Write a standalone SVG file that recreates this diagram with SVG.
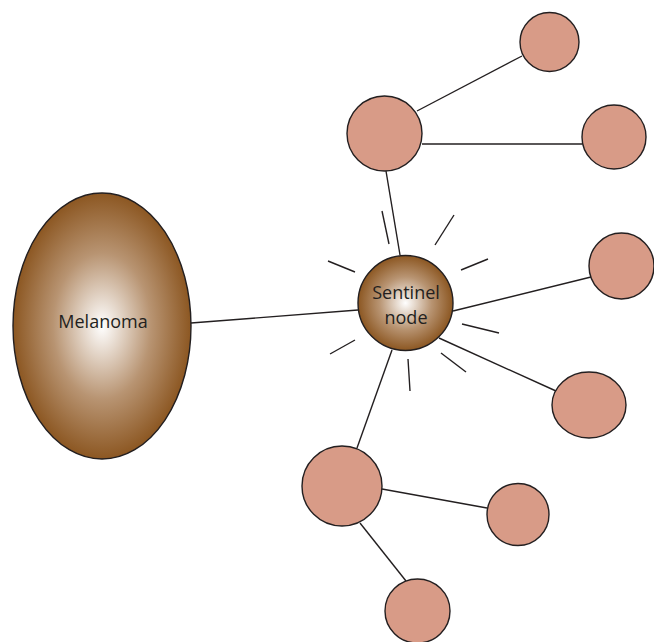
<svg xmlns="http://www.w3.org/2000/svg" width="654" height="642" viewBox="0 0 654 642">
<defs>
<radialGradient id="brown" cx="50%" cy="50%" r="50%">
<stop offset="0" stop-color="#ffffff"/>
<stop offset="0.55" stop-color="#b89472"/>
<stop offset="1" stop-color="#8c5722"/>
</radialGradient>
<style>
.ln{stroke:#231f20;stroke-width:1.4;fill:none}
.ray{stroke:#231f20;stroke-width:1.4;fill:none}
.lymph{fill:#d89b87;stroke:#231f20;stroke-width:1.4}
.main{fill:url(#brown);stroke:#231f20;stroke-width:1.4}
.lbl{font-family:"Open Sans","Noto Sans",sans-serif;font-size:18px;fill:#231f20;text-anchor:middle}
</style>
</defs>
<rect width="654" height="642" fill="#ffffff"/>
<g id="connectors">
<line class="ln" x1="191" y1="323" x2="358" y2="310"/>
<line class="ln" x1="386" y1="171" x2="400" y2="255"/>
<line class="ln" x1="417" y1="111" x2="522" y2="56"/>
<line class="ln" x1="422" y1="144" x2="582" y2="144"/>
<line class="ln" x1="453" y1="311" x2="591" y2="277"/>
<line class="ln" x1="439" y1="338" x2="556" y2="391"/>
<line class="ln" x1="392" y1="350" x2="357" y2="448"/>
<line class="ln" x1="382" y1="489" x2="487" y2="508"/>
<line class="ln" x1="360" y1="523" x2="406" y2="581"/>
</g>
<g id="rays">
<line class="ray" x1="382" y1="211" x2="389" y2="244"/>
<line class="ray" x1="454" y1="215" x2="435" y2="245"/>
<line class="ray" x1="461" y1="270" x2="488" y2="259"/>
<line class="ray" x1="328" y1="261" x2="355" y2="272"/>
<line class="ray" x1="462" y1="324" x2="499" y2="333"/>
<line class="ray" x1="441" y1="353" x2="466" y2="372"/>
<line class="ray" x1="408" y1="359" x2="410" y2="391"/>
<line class="ray" x1="330" y1="354" x2="355" y2="340"/>
</g>
<g id="melanoma">
<ellipse class="main" cx="102" cy="326" rx="89" ry="133"/>
<text class="lbl" x="103" y="328">Melanoma</text>
</g>
<g id="sentinel">
<circle class="main" cx="405.5" cy="303" r="47.5"/>
<text class="lbl" x="406" y="299">Sentinel</text>
<text class="lbl" x="406" y="324">node</text>
</g>
<g id="node-upper"><circle class="lymph" cx="384.5" cy="133.5" r="37.5"/></g>
<g id="node-top-right"><circle class="lymph" cx="549.5" cy="42" r="29.5"/></g>
<g id="node-upper-right"><circle class="lymph" cx="614" cy="137" r="32"/></g>
<g id="node-mid-right"><ellipse class="lymph" cx="621.5" cy="266" rx="32.5" ry="33"/></g>
<g id="node-lower-right"><ellipse class="lymph" cx="589" cy="405" rx="37" ry="33"/></g>
<g id="node-lower"><circle class="lymph" cx="342" cy="486" r="40"/></g>
<g id="node-lower-mid"><circle class="lymph" cx="518" cy="514.5" r="31"/></g>
<g id="node-bottom"><ellipse class="lymph" cx="417.5" cy="611" rx="32.5" ry="32"/></g>
</svg>
